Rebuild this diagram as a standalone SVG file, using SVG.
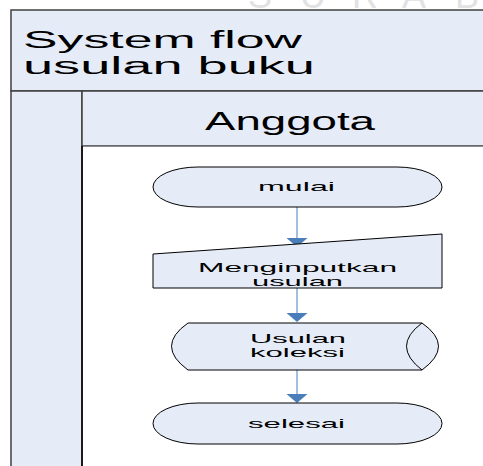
<svg xmlns="http://www.w3.org/2000/svg" width="483" height="466" viewBox="0 0 483 466">
  <defs>
    <style>
      .lane { fill: #E6ECF7; stroke: #3F3F3F; stroke-width: 1.5; }
      .body { fill: #FFFFFF; stroke: none; }
      .shape { fill: #E6ECF7; stroke: #000000; stroke-width: 1; }
      .flow { stroke: #4A7EBB; stroke-width: 1; fill: none; }
      .head { fill: #4A7EBB; stroke: none; }
      .title { font-family: "Liberation Sans", Arial, sans-serif; font-size: 23px; fill: #000; }
      .lanelbl { font-family: "Liberation Sans", Arial, sans-serif; font-size: 25px; fill: #000; }
      .lbl { font-family: "Liberation Sans", Arial, sans-serif; font-size: 13px; fill: #000; }
      .mark { font-family: "Liberation Sans", Arial, sans-serif; font-size: 36px; fill: #E2E2E2; }
    </style>
  </defs>

  <!-- faint watermark letters -->
  <text class="mark" x="248" y="8">S</text>
  <text class="mark" x="300" y="8">U</text>
  <text class="mark" x="352" y="8">R</text>
  <text class="mark" x="402" y="8">A</text>
  <text class="mark" x="455" y="8">B</text>

  <!-- pool frame -->
  <g id="pool">
    <rect class="lane" x="11" y="10" width="480" height="81"/>
    <text class="title" x="23" y="48" textLength="279" lengthAdjust="spacingAndGlyphs">System flow</text>
    <text class="title" x="23" y="74" textLength="292" lengthAdjust="spacingAndGlyphs">usulan buku</text>
  </g>

  <!-- lane "Anggota" -->
  <g id="lane-anggota">
    <rect class="lane" x="11" y="91" width="71" height="390"/>
    <rect class="lane" x="82" y="91" width="410" height="55"/>
    <rect class="body" x="83" y="146.8" width="400" height="320"/>
    <line x1="82" y1="146" x2="82" y2="466" stroke="#000" stroke-width="1.5"/>
    <text class="lanelbl" x="205" y="130" textLength="170" lengthAdjust="spacingAndGlyphs">Anggota</text>
  </g>

  <!-- connectors -->
  <g id="connectors">
    <line class="flow" x1="297" y1="207" x2="297" y2="239"/>
    <polygon class="head" points="286.5,238 307.5,238 297,247"/>
    <line class="flow" x1="297" y1="288" x2="297" y2="314"/>
    <polygon class="head" points="286.5,313 307.5,313 297,322"/>
    <line class="flow" x1="297" y1="370" x2="297" y2="395"/>
    <polygon class="head" points="286.5,394 307.5,394 297,403"/>
  </g>

  <!-- start terminator -->
  <g id="mulai">
    <path class="shape" d="M198,167 L397,167 A45,20 0 0 1 397,207 L198,207 A45,20 0 0 1 198,167 Z"/>
    <text class="lbl" x="258" y="191" textLength="77" lengthAdjust="spacingAndGlyphs">mulai</text>
  </g>

  <!-- manual input -->
  <g id="menginputkan">
    <path class="shape" d="M153,254 L442,234 L442,288 L153,288 Z"/>
    <text class="lbl" x="198" y="272" textLength="199" lengthAdjust="spacingAndGlyphs">Menginputkan</text>
    <text class="lbl" x="252" y="286" textLength="91" lengthAdjust="spacingAndGlyphs">usulan</text>
  </g>

  <!-- stored data -->
  <g id="usulan-koleksi">
    <path class="shape" d="M188,323 L422,323 Q455,346 422,370 L188,370 Q155,346 188,323 Z"/>
    <path class="shape" fill="none" d="M422,323 Q391,346 422,370"/>
    <text class="lbl" x="250" y="343" textLength="96" lengthAdjust="spacingAndGlyphs">Usulan</text>
    <text class="lbl" x="250" y="357" textLength="95" lengthAdjust="spacingAndGlyphs">koleksi</text>
  </g>

  <!-- end terminator -->
  <g id="selesai">
    <path class="shape" d="M198,403 L397,403 A45,20.5 0 0 1 397,444 L198,444 A45,20.5 0 0 1 198,403 Z"/>
    <text class="lbl" x="248" y="428" textLength="97" lengthAdjust="spacingAndGlyphs">selesai</text>
  </g>
</svg>
